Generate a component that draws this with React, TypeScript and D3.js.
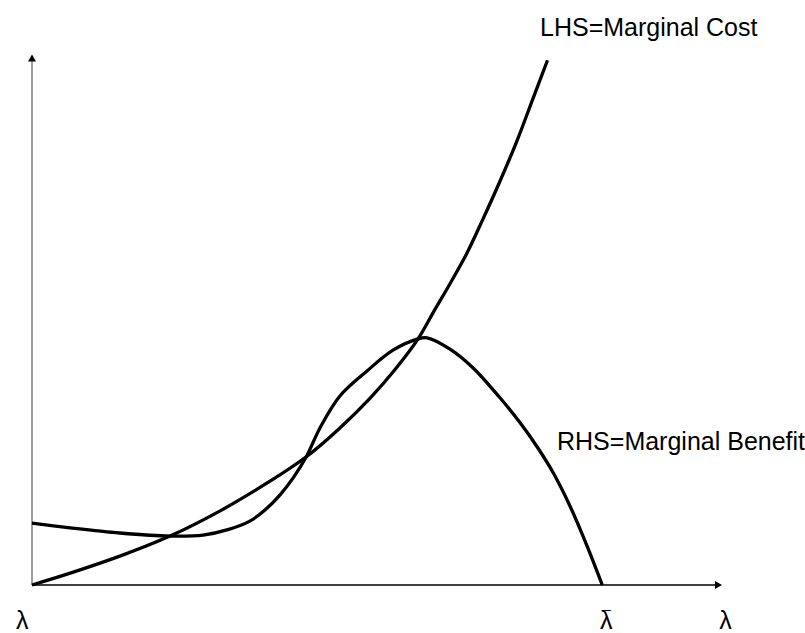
import * as d3 from 'd3';

// λ on the horizontal axis (λ̄ = 1), values on the vertical axis
const costLambda = [0, 0.067, 0.154, 0.242, 0.33, 0.418, 0.481, 0.54, 0.593, 0.637, 0.677, 0.704, 0.733, 0.763, 0.791, 0.821, 0.851, 0.879, 0.904];
const costValue = [0, 0.023, 0.056, 0.095, 0.144, 0.202, 0.249, 0.305, 0.363, 0.419, 0.478, 0.53, 0.585, 0.645, 0.711, 0.785, 0.864, 0.946, 1.019];

const benefitLambda = [0, 0.067, 0.154, 0.242, 0.3, 0.345, 0.382, 0.409, 0.435, 0.458, 0.481, 0.505, 0.54, 0.588, 0.633, 0.677, 0.693, 0.733, 0.774, 0.821, 0.856, 0.886, 0.914, 0.944, 0.974, 1];
const benefitValue = [0.12, 0.111, 0.101, 0.095, 0.097, 0.108, 0.124, 0.146, 0.175, 0.208, 0.249, 0.305, 0.367, 0.416, 0.456, 0.478, 0.48, 0.458, 0.421, 0.363, 0.315, 0.268, 0.218, 0.152, 0.074, 0];

const curveLabels = ['LHS=Marginal Cost', 'RHS=Marginal Benefit'];
const axisLabels = ['λ', 'λ', 'λ'];
const axisLabelAt = [-0.017, 1.007, 1.216];

const W = 805;
const H = 633;
const FONT = '"Liberation Sans", Arial, sans-serif';

export default function App() {
  const x = d3.scaleLinear().domain([0, 1.21]).range([32, 722]);
  const y = d3.scaleLinear().domain([0, 1]).range([585, 70]);

  const line = d3.line<[number, number]>()
    .x(d => x(d[0]))
    .y(d => y(d[1]))
    .curve(d3.curveCatmullRom.alpha(0.5));

  const cost = costLambda.map((l, i) => [l, costValue[i]] as [number, number]);
  const benefit = benefitLambda.map((l, i) => [l, benefitValue[i]] as [number, number]);

  const x0 = x(0), y0 = y(0);
  const xEnd = x(1.21), yTop = y(1.03);

  return (
    <svg width={W} height={H} style={{ position: 'absolute', left: 0, top: 0, background: '#fff' }}>
      {/* axes */}
      <line x1={x0} y1={y0} x2={x0} y2={yTop + 6} stroke="#808080" strokeWidth={1.5} />
      <path d={`M${x0},${yTop} L${x0 - 4},${yTop + 7} L${x0 + 4},${yTop + 7} Z`} fill="#000" />
      <line x1={x0} y1={y0} x2={xEnd - 6} y2={y0} stroke="#000" strokeWidth={1.5} />
      <path d={`M${xEnd},${y0} L${xEnd - 7},${y0 - 4} L${xEnd - 7},${y0 + 4} Z`} fill="#000" />

      {/* curves */}
      <path d={line(cost) ?? ''} fill="none" stroke="#000" strokeWidth={3.3} />
      <path d={line(benefit) ?? ''} fill="none" stroke="#000" strokeWidth={3.3} />

      {/* labels */}
      <text x={540} y={36} fontFamily={FONT} fontSize={25} fill="#000">{curveLabels[0]}</text>
      <text x={557} y={450} fontFamily={FONT} fontSize={25} fill="#000">{curveLabels[1]}</text>
      {axisLabels.map((t, i) => (
        <text key={i} fontFamily={FONT} fontSize={25} fill="#000" textAnchor="middle">
          <tspan x={x(axisLabelAt[i])} y={629}>{t}</tspan>
          {i === 1 && <tspan x={x(axisLabelAt[i])} y={623} fontSize={16}>¯</tspan>}
        </text>
      ))}
    </svg>
  );
}
